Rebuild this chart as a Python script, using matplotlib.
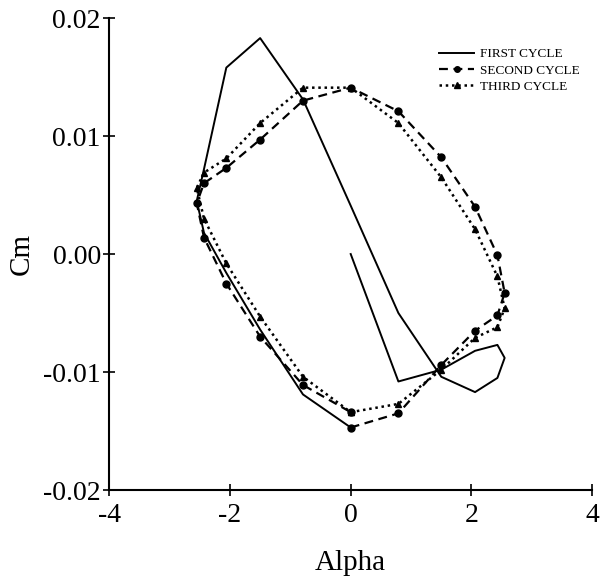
import matplotlib
matplotlib.use("Agg")
import matplotlib.pyplot as plt

plt.rcParams['font.family'] = ['Liberation Serif', 'DejaVu Serif']

# first cycle (solid)
alpha1 = [0, 0.79, 1.5, 2.06, 2.43, 2.55, 2.43, 2.06, 1.5, 0.79, 0, -0.79, -1.5,
          -2.06, -2.43, -2.55, -2.43, -2.06, -1.5, -0.79, 0]
cm1 = [0.0, -0.0108, -0.0098, -0.0082, -0.0077, -0.0088, -0.0105, -0.0117, -0.0104,
       -0.0050, 0.0041, 0.0131, 0.0183, 0.0158, 0.0072, 0.0045, 0.0018, -0.0016,
       -0.0064, -0.0119, -0.0147]

# second cycle (dashed, circles)
alpha2 = [0, 0.79, 1.5, 2.06, 2.43, 2.55, 2.43, 2.06, 1.5, 0.79, 0, -0.79, -1.5,
          -2.06, -2.43, -2.55, -2.43, -2.06, -1.5, -0.79, 0]
cm2 = [-0.0147, -0.0135, -0.0094, -0.0065, -0.0052, -0.0033, -0.0001, 0.0040,
       0.0082, 0.0121, 0.0141, 0.0130, 0.0097, 0.0073, 0.0060, 0.0043, 0.0014,
       -0.0025, -0.0070, -0.0111, -0.0134]

# third cycle (dotted, triangles)
alpha3 = [0, 0.79, 1.5, 2.06, 2.43, 2.55, 2.43, 2.06, 1.5, 0.79, 0, -0.79, -1.5,
          -2.06, -2.43, -2.55, -2.43, -2.06, -1.5, -0.79, 0]
cm3 = [-0.0134, -0.0127, -0.0098, -0.0071, -0.0062, -0.0046, -0.0019, 0.0021,
       0.0065, 0.0111, 0.0141, 0.0141, 0.0111, 0.0081, 0.0069, 0.0056, 0.0030,
       -0.0008, -0.0053, -0.0104, -0.0134]

fig = plt.figure(figsize=(6.0, 5.82), dpi=100)
ax = fig.add_axes([0.182, 0.158, 0.805, 0.811])

ax.plot(alpha1, cm1, color='black', lw=1.4, label='FIRST CYCLE')
ax.plot(alpha2, cm2, color='black', lw=1.6, ls=(0, (4, 2.5)), marker='o', ms=5,
        label='SECOND CYCLE')
ax.plot(alpha3, cm3, color='black', lw=1.8, ls=(0, (1, 1.5)), marker='^', ms=5,
        label='THIRD CYCLE')

ax.set_xlim(-4, 4)
ax.set_ylim(-0.02, 0.02)
ax.set_xticks([-4, -2, 0, 2, 4])
ax.set_xticklabels(['-4', '-2', '0', '2', '4'])
ax.set_yticks([-0.02, -0.01, 0.0, 0.01, 0.02])
ax.set_yticklabels(['-0.02', '-0.01', '0.00', '0.01', '0.02'])
ax.spines['top'].set_visible(False)
ax.spines['right'].set_visible(False)
ax.spines['left'].set_linewidth(1.5)
ax.spines['bottom'].set_linewidth(1.5)
ax.tick_params(direction='inout', length=8, width=1.2, labelsize=20, pad=2)
ax.tick_params(axis='x', pad=5)
ax.set_xlabel('Alpha', fontsize=21, labelpad=16)
ax.set_ylabel('Cm', fontsize=21, labelpad=6)

ax.legend(loc='upper left', bbox_to_anchor=(0.67, 0.95), frameon=False,
          fontsize=9.5, handlelength=2.6, handletextpad=0.5, labelspacing=0.3,
          borderpad=0, markerscale=0.8)

fig.savefig('out.png', dpi=100)
